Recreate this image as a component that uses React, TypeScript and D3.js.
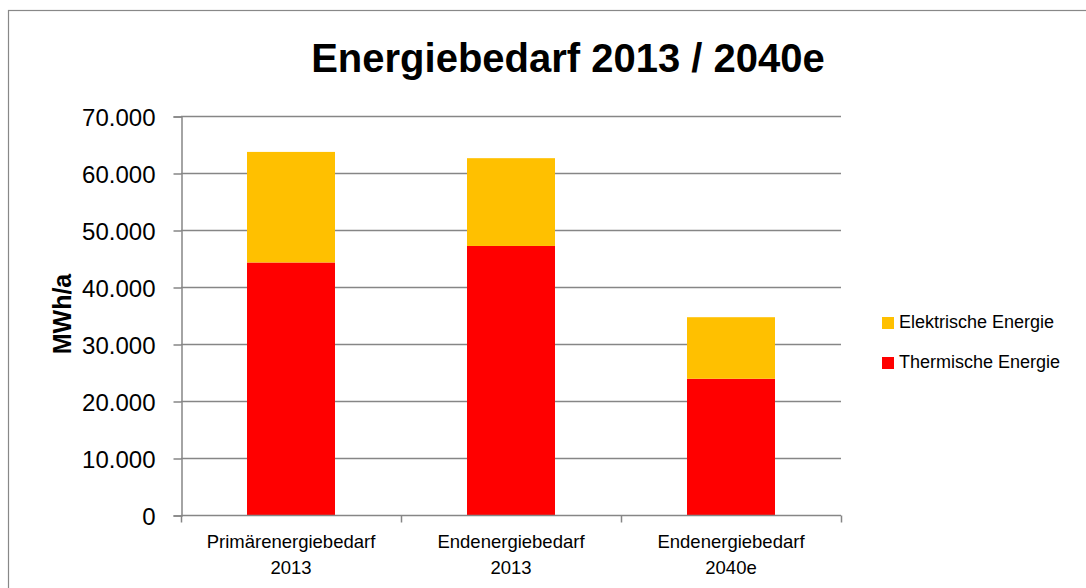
import React, { useEffect, useRef } from 'react'
import * as d3 from 'd3'

const categories = ['Primärenergiebedarf 2013', 'Endenergiebedarf 2013', 'Endenergiebedarf 2040e']
const thermisch = [44300, 47200, 23900]
const elektrisch = [19400, 15400, 10800]
const seriesNames = ['Thermische Energie', 'Elektrische Energie']
const yTicks = [0, 10000, 20000, 30000, 40000, 50000, 60000, 70000]

const colors: Record<string, string> = {
    'Thermische Energie': '#FF0000',
    'Elektrische Energie': '#FFC000',
}

const App = () => {
    const chartRef = useRef<HTMLDivElement>(null)

    useEffect(() => {
        const root = d3.select(chartRef.current)
        root.selectAll('*').remove()

        const W = 1086
        const H = 588
        const font = "'Liberation Sans', Arial, sans-serif"
        const gridColor = '#868686'

        const svg = root.append('svg')
            .attr('width', W)
            .attr('height', H)
            .style('display', 'block')
            .style('font-family', font)

        svg.append('rect')
            .attr('width', W)
            .attr('height', H)
            .attr('fill', '#fff')

        // outer frame (only top/left visible)
        svg.append('rect')
            .attr('x', 8.5)
            .attr('y', 10.5)
            .attr('width', W + 20)
            .attr('height', H + 20)
            .attr('fill', 'none')
            .attr('stroke', '#888')
            .attr('stroke-width', 1.2)

        const rows = categories.map((c, i) => ({
            cat: c,
            'Thermische Energie': thermisch[i],
            'Elektrische Energie': elektrisch[i],
        }))

        const x = d3.scaleBand<string>()
            .domain(categories)
            .range([181, 841])
            .paddingInner(0.6)
            .paddingOuter(0.3)

        const y = d3.scaleLinear()
            .domain([0, 70000])
            .range([515, 116])

        const de = d3.formatLocale({ decimal: ',', thousands: '.', grouping: [3], currency: ['', ' €'] })
        const fmt = de.format(',d')

        // gridlines
        svg.append('g')
            .selectAll('line')
            .data(yTicks.filter(t => t > 0))
            .enter()
            .append('line')
            .attr('x1', 181)
            .attr('x2', 841)
            .attr('y1', d => Math.round(y(d)) + 0.5)
            .attr('y2', d => Math.round(y(d)) + 0.5)
            .attr('stroke', gridColor)
            .attr('stroke-width', 1.5)

        // stacked bars
        const stack = d3.stack<any>().keys(seriesNames)
        const layers = stack(rows)

        svg.append('g')
            .selectAll('g')
            .data(layers)
            .enter()
            .append('g')
            .attr('fill', d => colors[d.key])
            .selectAll('rect')
            .data(d => d)
            .enter()
            .append('rect')
            .attr('x', d => x(d.data.cat) as number)
            .attr('width', x.bandwidth())
            .attr('y', d => y(d[1]))
            .attr('height', d => y(d[0]) - y(d[1]))

        // y axis
        const yAxis = d3.axisLeft(y)
            .tickValues(yTicks)
            .tickSize(8)
            .tickPadding(18)
            .tickFormat(d => fmt(d as number))

        const gy = svg.append('g')
            .attr('transform', 'translate(181.5, 0.5)')
            .call(yAxis)
        gy.select('.domain').attr('stroke', gridColor).attr('stroke-width', 1.5)
        gy.selectAll('.tick line').attr('stroke', gridColor).attr('stroke-width', 1.5)
        gy.selectAll('.tick text')
            .attr('font-size', 24)
            .attr('font-family', font)
            .attr('fill', '#000')
            .attr('dy', '0.36em')

        // x axis
        const gx = svg.append('g').attr('transform', 'translate(0, 515.5)')
        gx.append('line')
            .attr('x1', 181)
            .attr('x2', 841)
            .attr('stroke', gridColor)
            .attr('stroke-width', 1.5)
        const step = x.step()
        const bounds = d3.range(categories.length + 1).map(i => 181 + i * step)
        gx.selectAll('.xtick')
            .data(bounds)
            .enter()
            .append('line')
            .attr('class', 'xtick')
            .attr('x1', d => Math.round(d) + 0.5)
            .attr('x2', d => Math.round(d) + 0.5)
            .attr('y1', 0)
            .attr('y2', 7)
            .attr('stroke', gridColor)
            .attr('stroke-width', 1.5)

        const labels = svg.append('g')
            .selectAll('text')
            .data(categories)
            .enter()
            .append('text')
            .attr('text-anchor', 'middle')
            .attr('font-size', 18.5)
            .attr('fill', '#000')
            .attr('transform', d => `translate(${(x(d) as number) + x.bandwidth() / 2}, 548)`)
        labels.each(function (d) {
            const idx = d.lastIndexOf(' ')
            const lines = [d.slice(0, idx), d.slice(idx + 1)]
            const t = d3.select(this)
            lines.forEach((ln, i) => {
                t.append('tspan').attr('x', 0).attr('y', i * 26).text(ln)
            })
        })

        // title
        svg.append('text')
            .attr('x', 568)
            .attr('y', 72)
            .attr('text-anchor', 'middle')
            .attr('font-size', 40)
            .attr('font-weight', 'bold')
            .attr('fill', '#000')
            .text('Energiebedarf 2013 / 2040e')

        // y axis title
        svg.append('text')
            .attr('transform', 'translate(71, 314) rotate(-90)')
            .attr('text-anchor', 'middle')
            .attr('font-size', 25)
            .attr('font-weight', 'bold')
            .attr('fill', '#000')
            .text('MWh/a')

        // legend
        const legendItems = seriesNames.slice().reverse()
        const lg = svg.append('g')
            .selectAll('g')
            .data(legendItems)
            .enter()
            .append('g')
            .attr('transform', (d, i) => `translate(882, ${317 + i * 40})`)
        lg.append('rect')
            .attr('width', 12)
            .attr('height', 12)
            .attr('fill', d => colors[d])
        lg.append('text')
            .attr('x', 17)
            .attr('y', 11)
            .attr('font-size', 18)
            .attr('fill', '#000')
            .text(d => d)
    }, [])

    return (
        <div ref={chartRef} style={{ position: 'absolute', left: 0, top: 0 }} />
    )
}

export default App
